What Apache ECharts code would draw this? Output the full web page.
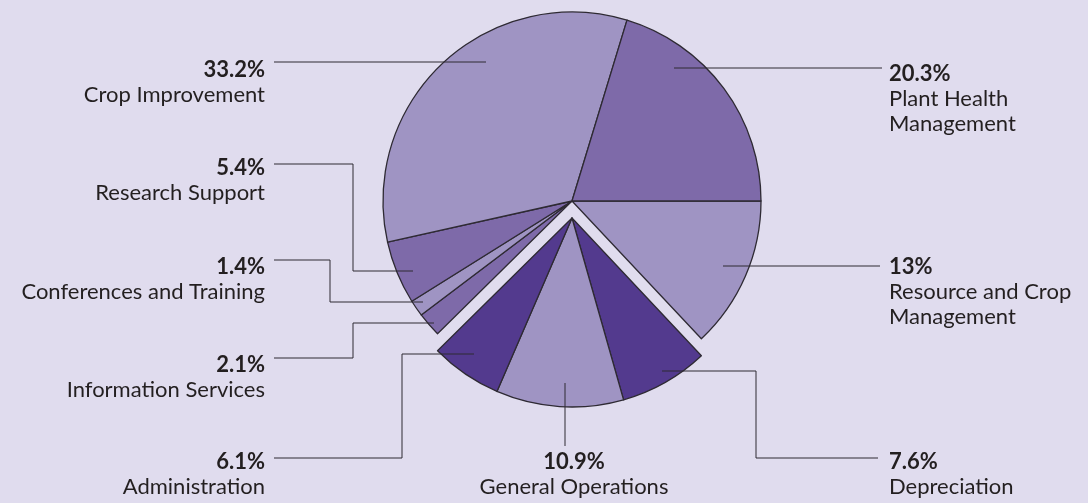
<!DOCTYPE html>
<html>
<head>
<meta charset="utf-8">
<script src="https://cdn.jsdelivr.net/npm/echarts@6/dist/echarts.min.js"></script>
<style>
html,body{margin:0;padding:0;background:#e0dcee;}
#chart{width:1088px;height:503px;}
</style>
</head>
<body>
<div id="chart"></div>
<script>
// ---- data (clockwise from 3 o'clock) ----
const categories = [
  'Resource and Crop\nManagement',
  'Depreciation',
  'General Operations',
  'Administration',
  'Information Services',
  'Conferences and Training',
  'Research Support',
  'Crop Improvement',
  'Plant Health\nManagement'
];
const values = [13, 7.6, 10.9, 6.1, 2.1, 1.4, 5.4, 33.2, 20.3];
const explodedCategories = ['Depreciation', 'General Operations', 'Administration'];
const shade = ['light', 'dark', 'light', 'dark', 'medium', 'light', 'medium', 'light', 'medium'];

// ---- styles / layout ----
const palette = { light: '#9f94c3', medium: '#7e6aa9', dark: '#533a8e' };
const BG = '#e0dcee';
const TEXT = '#231f20';
const LINE = '#2e2a33';
const CENTER = [572, 201];
const EXPLODED_CENTER = [572, 218];
const RADIUS = 189;

// label anchors and leader routes (annotation layout, px)
const labelPlacement = [
  { x: 889, y: 254, align: 'left',   route: [[880, 266], [723, 266]] },
  { x: 889, y: 449, align: 'left',   route: [[878, 458], [756, 458], [756, 371], [662, 371]] },
  { x: 574, y: 449, align: 'center', route: [[565, 446], [565, 383]] },
  { x: 265, y: 449, align: 'right',  route: [[274, 458], [402, 458], [402, 354], [474, 354]] },
  { x: 265, y: 352, align: 'right',  route: [[274, 358], [353, 358], [353, 323], [434, 323]] },
  { x: 265, y: 254, align: 'right',  route: [[274, 260], [330, 260], [330, 302], [423, 302]] },
  { x: 265, y: 155, align: 'right',  route: [[274, 164], [353, 164], [353, 271], [413, 271]] },
  { x: 265, y: 57,  align: 'right',  route: [[274, 62], [486, 62]] },
  { x: 889, y: 61,  align: 'left',   route: [[882, 68], [674, 68]] }
];

function isExploded(i) {
  return explodedCategories.indexOf(categories[i].replace('\n', ' ')) >= 0;
}

function sliceData(wantExploded) {
  return categories.map((name, i) => {
    const visible = isExploded(i) === wantExploded;
    return {
      name: name,
      value: values[i],
      itemStyle: visible
        ? { color: palette[shade[i]], borderColor: LINE, borderWidth: 1.3 }
        : { color: 'transparent', borderWidth: 0 }
    };
  });
}

function labelData() {
  return categories.map((name, i) => ({
    name: name,
    value: values[i],
    itemStyle: { color: 'transparent', borderWidth: 0 }
  }));
}

const labelCfg = {
  show: true,
  position: 'outside',
  color: TEXT,
  fontFamily: 'Lato',
  formatter: (p) => '{p|' + p.value + '%}\n{n|' + p.name.split('\n').join('}\n{n|') + '}',
  rich: {
    p: { fontFamily: 'Lato', fontWeight: 'bold', fontSize: 22, lineHeight: 25, color: TEXT },
    n: { fontFamily: 'Lato', fontSize: 22, lineHeight: 25, color: TEXT }
  }
};

function layoutFn(params) {
  const pl = labelPlacement[params.dataIndex];
  return {
    x: pl.x,
    y: pl.y,
    align: pl.align,
    verticalAlign: 'top',
    labelLinePoints: pl.route
  };
}

function baseSeries(center) {
  return {
    type: 'pie',
    center: center,
    radius: RADIUS,
    startAngle: 0,
    clockwise: true,
    avoidLabelOverlap: false,
    silent: true,
    animation: false,
    emphasis: { disabled: true }
  };
}

const slicesMain = Object.assign(baseSeries(CENTER), {
  z: 2, label: { show: false }, labelLine: { show: false }, data: sliceData(false)
});
const slicesExploded = Object.assign(baseSeries(EXPLODED_CENTER), {
  z: 2, label: { show: false }, labelLine: { show: false }, data: sliceData(true)
});
const labelsSeries = Object.assign(baseSeries(CENTER), {
  z: 5,
  label: labelCfg,
  labelLine: { show: true, smooth: false, lineStyle: { color: LINE, width: 1 } },
  labelLayout: layoutFn,
  data: labelData()
});

const chart = echarts.init(document.getElementById('chart'), null, { renderer: 'canvas' });
chart.setOption({
  backgroundColor: BG,
  animation: false,
  series: [slicesMain, slicesExploded, labelsSeries]
});
</script>
</body>
</html>
